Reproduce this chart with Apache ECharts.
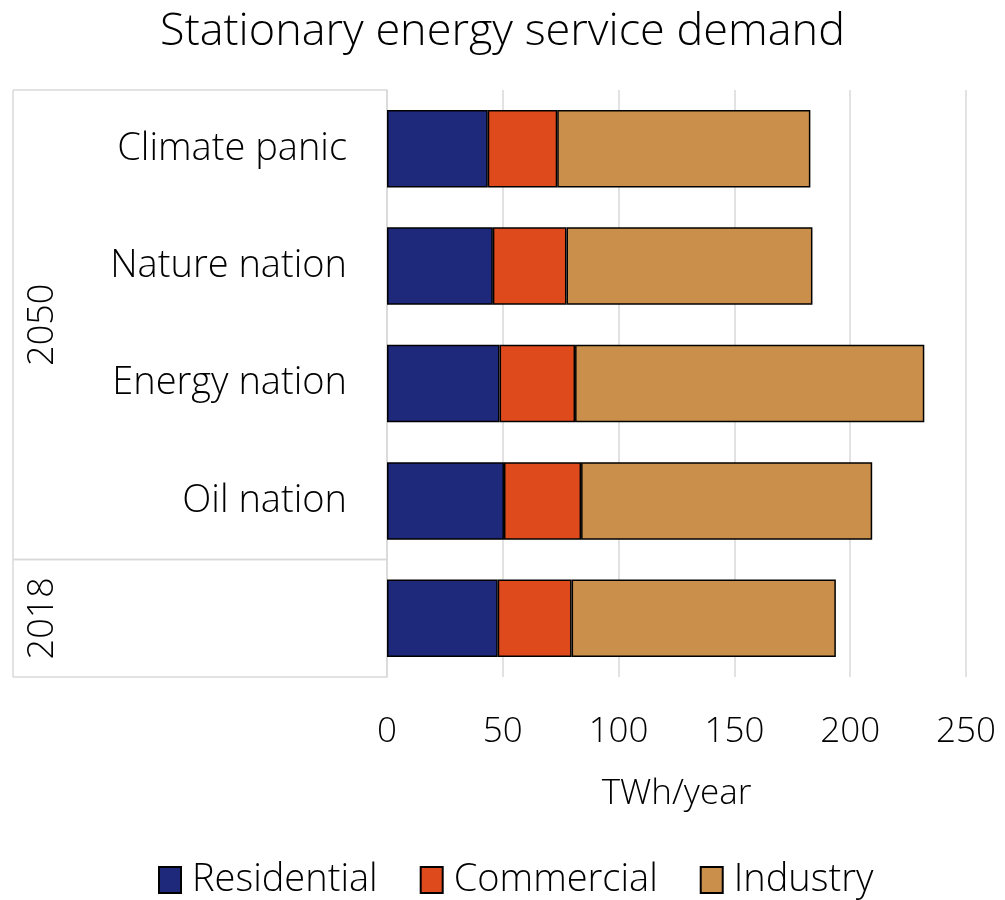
<!DOCTYPE html>
<html>
<head>
<meta charset="utf-8">
<script src="https://cdn.jsdelivr.net/npm/echarts@6/dist/echarts.min.js"></script>
<style>
  html, body { margin: 0; padding: 0; background: #fff; }
  #chart { width: 1005px; height: 900px; }
</style>
</head>
<body>
<div id="chart"></div>
<script>
// Scenario rows, top to bottom (the 2018 row has no scenario name)
const categories = ['Climate panic', 'Nature nation', 'Energy nation', 'Oil nation', ''];
// Group (year) for each row
const groups = ['2050', '2050', '2050', '2050', '2018'];
// TWh/year by sector
const residential = [43.5, 45.7, 48.6, 50.5, 47.8];
const commercial  = [30.0, 31.8, 32.6, 33.3, 31.9];
const industry    = [109.3, 106.2, 150.8, 125.7, 114.1];
const xTicks = [0, 50, 100, 150, 200, 250];

const FONT = '"Open Sans", "Noto Sans", sans-serif';
const chart = echarts.init(document.getElementById('chart'));

const barStyle = (color) => ({ color: color, borderColor: '#000', borderWidth: 1.5 });

chart.setOption({
  animation: false,
  title: {
    text: 'Stationary energy service demand',
    left: 'center', top: 5,
    textStyle: { fontFamily: FONT, fontSize: 45, fontWeight: 300, color: '#000' }
  },
  legend: {
    bottom: -4, left: 153,
    itemWidth: 22, itemHeight: 26, itemGap: 42,
    icon: 'rect',
    textStyle: { fontFamily: FONT, fontSize: 38, fontWeight: 300, color: '#000', padding: [0, 0, 0, 6] },
    data: ['Residential', 'Commercial', 'Industry']
  },
  grid: { left: 387, right: 39, top: 90, bottom: 223, containLabel: false },
  xAxis: {
    type: 'value', min: xTicks[0], max: xTicks[xTicks.length - 1], interval: 50,
    name: 'TWh/year', nameLocation: 'middle', nameGap: 100,
    nameTextStyle: { fontFamily: FONT, fontSize: 35, fontWeight: 300, color: '#000' },
    axisLine: { show: false }, axisTick: { show: false },
    axisLabel: { fontFamily: FONT, fontSize: 35, fontWeight: 300, color: '#000', margin: 38 },
    splitLine: { lineStyle: { color: '#d9d9d9', width: 1.5 } }
  },
  yAxis: {
    type: 'category', inverse: true, data: categories,
    axisLine: { show: true, lineStyle: { color: '#d9d9d9', width: 1.5 } },
    axisTick: { show: false },
    axisLabel: { fontFamily: FONT, fontSize: 38, fontWeight: 300, color: '#000', margin: 40 }
  },
  series: [
    { name: 'Residential', type: 'bar', stack: 'total', barWidth: '66%', data: residential, itemStyle: barStyle('#1e297c') },
    { name: 'Commercial',  type: 'bar', stack: 'total', data: commercial, itemStyle: barStyle('#df4a1c') },
    { name: 'Industry',    type: 'bar', stack: 'total', data: industry,   itemStyle: barStyle('#c98f4b') }
  ]
});

// Group brackets at the left: boundaries derived from the category scale
function drawGroups() {
  const n = categories.length;
  const y0 = chart.convertToPixel({ yAxisIndex: 0 }, 0);
  const y1 = chart.convertToPixel({ yAxisIndex: 0 }, 1);
  const step = y1 - y0;
  const edge = (i) => y0 + (i - 0.5) * step;   // boundary above row i
  const axisX = chart.convertToPixel({ xAxisIndex: 0 }, 0);
  const leftX = 13;
  const line = { stroke: '#d9d9d9', lineWidth: 1.5 };
  const els = [];
  // spans of consecutive rows sharing a group
  let start = 0;
  const spans = [];
  for (let i = 1; i <= n; i++) {
    if (i === n || groups[i] !== groups[start]) { spans.push([start, i, groups[start]]); start = i; }
  }
  els.push({ type: 'line', shape: { x1: leftX, y1: edge(0), x2: leftX, y2: edge(n) }, style: line });
  spans.forEach(([a, b, label]) => {
    els.push({ type: 'line', shape: { x1: leftX, y1: edge(a), x2: axisX, y2: edge(a) }, style: line });
    els.push({ type: 'line', shape: { x1: leftX, y1: edge(b), x2: axisX, y2: edge(b) }, style: line });
    els.push({
      type: 'text', x: 43, y: (edge(a) + edge(b)) / 2, rotation: Math.PI / 2,
      style: { text: label, fontFamily: FONT, fontSize: 36, fontWeight: 300, fill: '#000', align: 'center', verticalAlign: 'middle' }
    });
  });
  chart.setOption({ graphic: els });
}
drawGroups();
</script>
</body>
</html>
